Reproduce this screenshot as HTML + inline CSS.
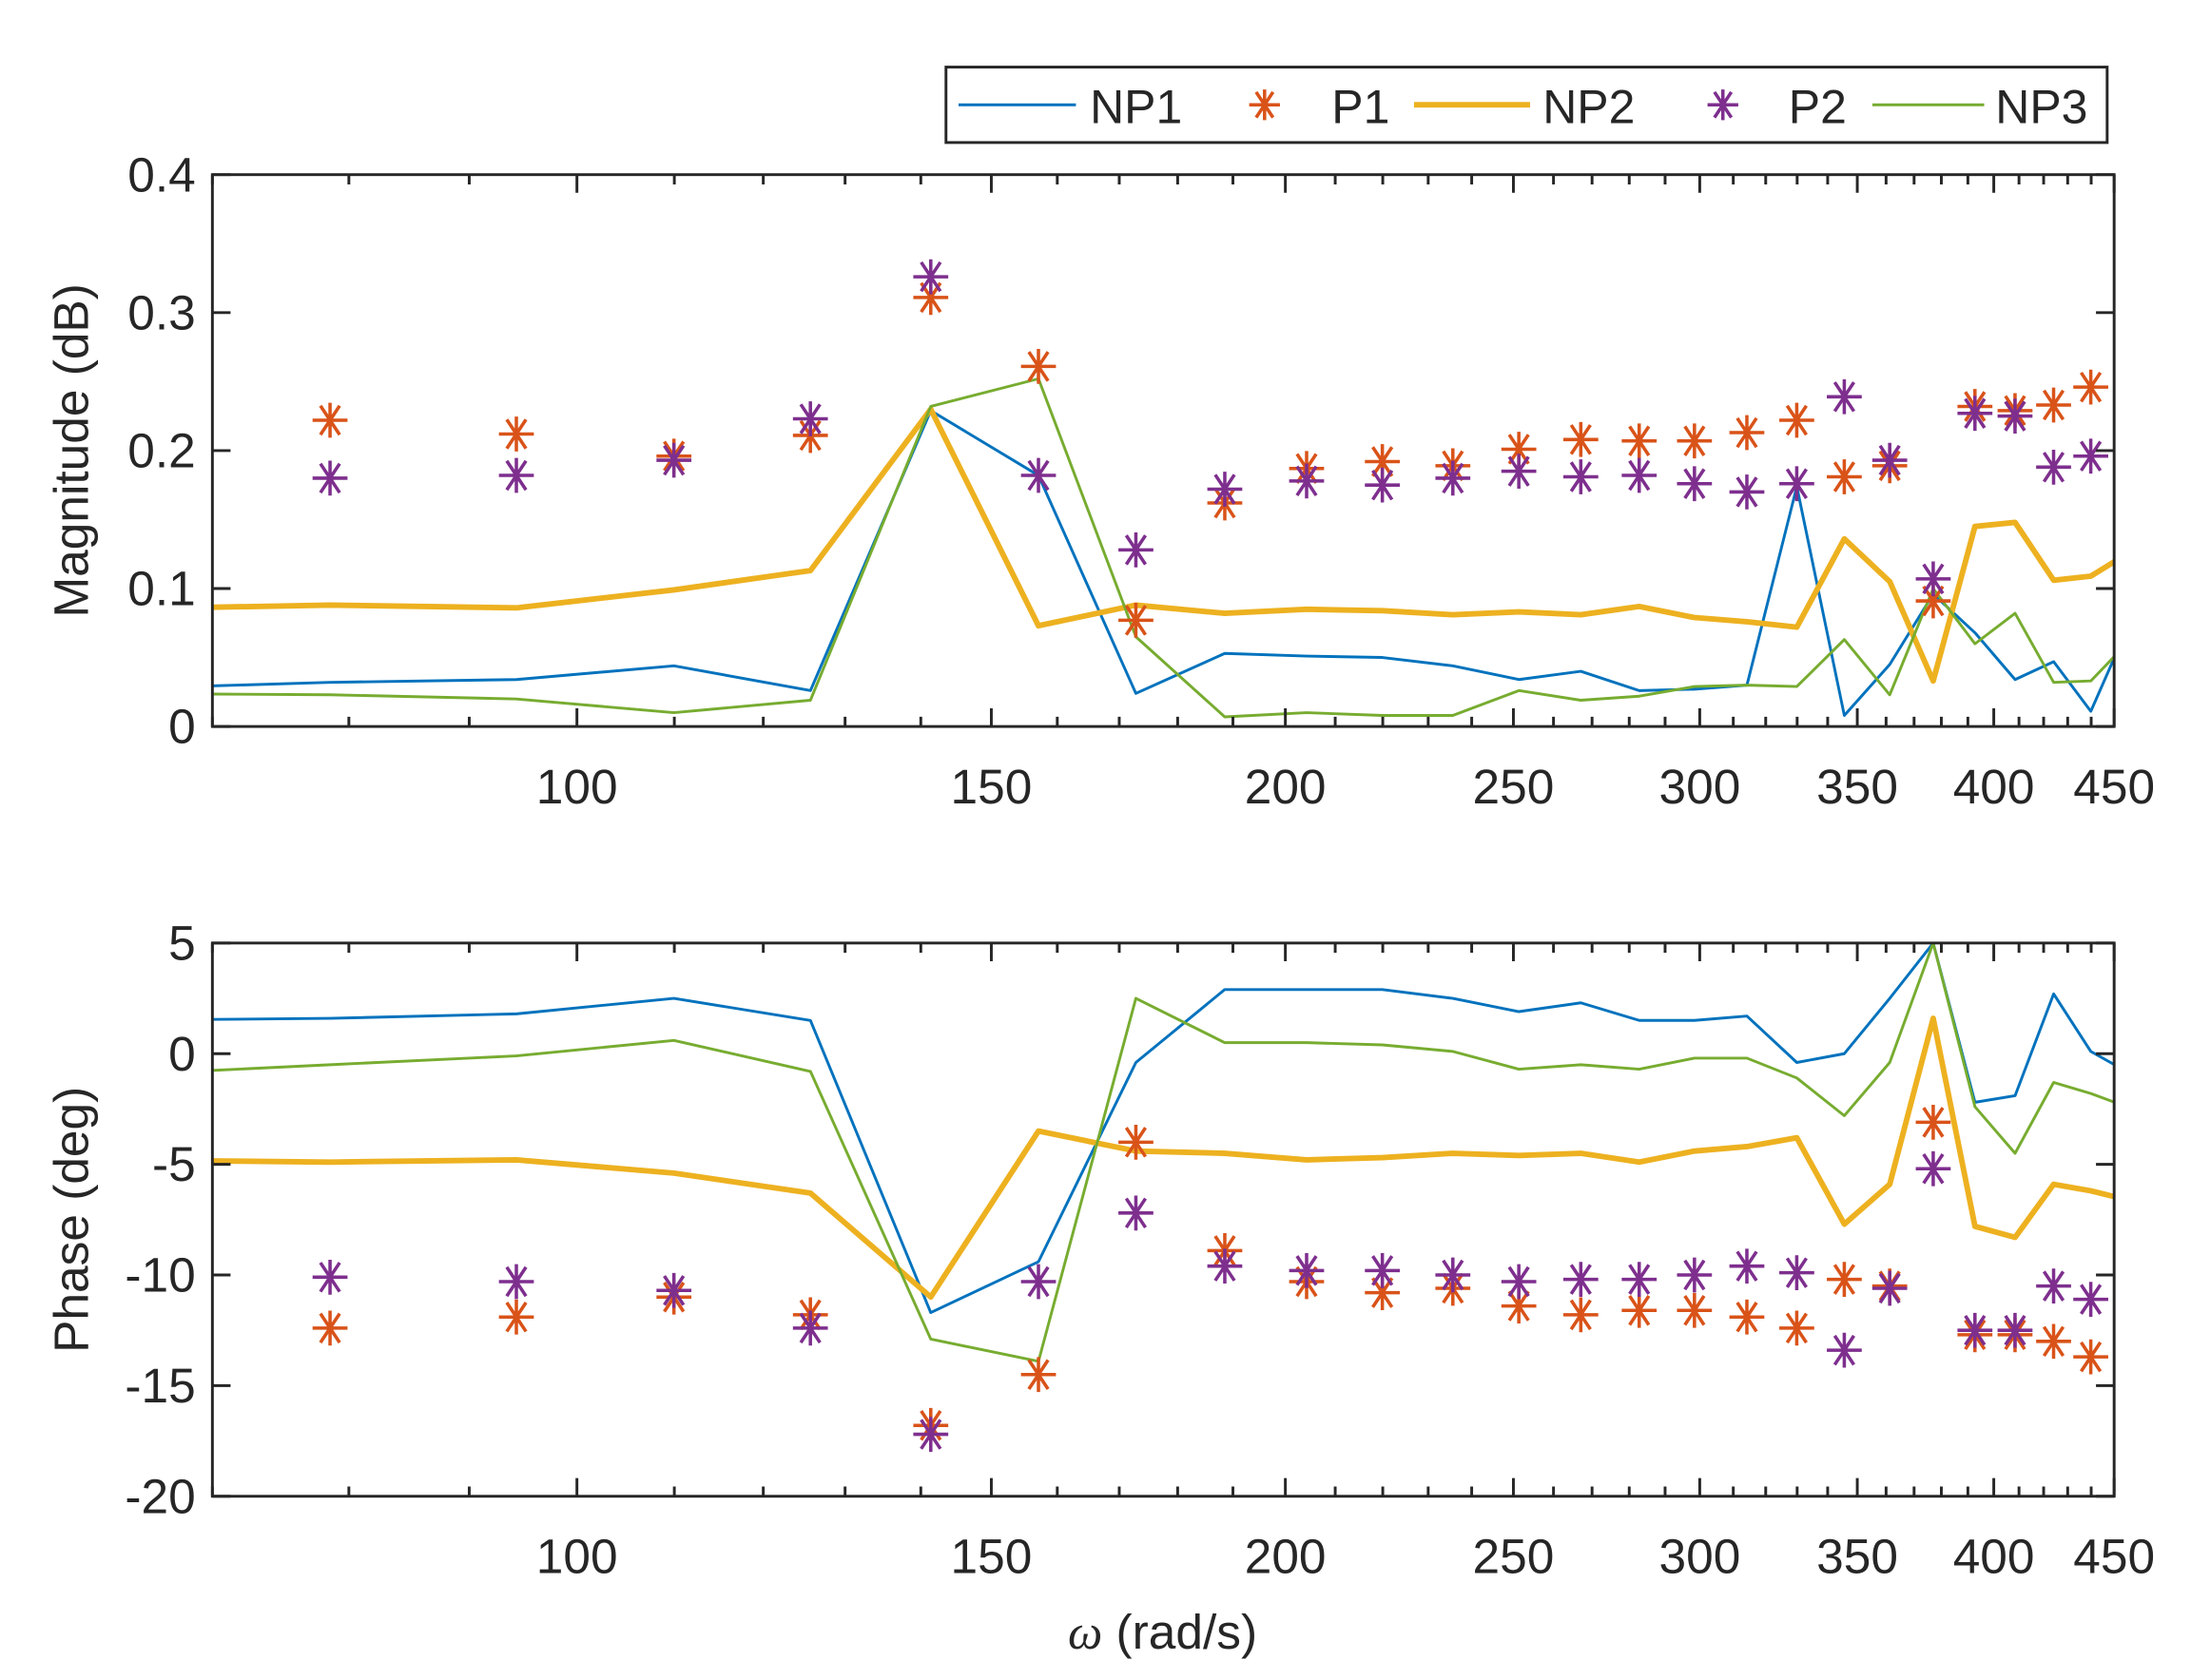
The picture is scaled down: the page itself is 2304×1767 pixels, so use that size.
<!DOCTYPE html>
<html><head><meta charset="utf-8"><style>
html,body{margin:0;padding:0;background:#fff}
svg{display:block}
text{font-family:"Liberation Sans",Arial,sans-serif;fill:#262626}
</style></head><body>
<svg id="chart" xmlns="http://www.w3.org/2000/svg" width="2304" height="1767" viewBox="0 0 1568 1202.5">
<defs>
<clipPath id="c1"><rect x="152" y="125" width="1361" height="395"/></clipPath>
<clipPath id="c2"><rect x="152" y="675" width="1361" height="396"/></clipPath>
</defs>
<g id="root"></g>
</svg>
<script>
const kIdx=[4,5,6,7,8,9,10,11,12,13,14,15,16,17,18,19,20,21,22,23,24,25,26,27,28,29];
const starIdx=[5,6,7,8,9,10,11,12,13,14,15,16,17,18,19,20,21,22,23,24,25,26,27,28];
const magNP1=[0.027,0.032,0.034,0.044,0.026,0.229,0.182,0.024,0.053,0.051,0.050,0.044,0.034,0.040,0.026,0.027,0.030,0.174,0.008,0.045,0.096,0.068,0.034,0.047,0.011,0.07];
const magNP2=[0.085,0.088,0.086,0.099,0.113,0.230,0.073,0.088,0.082,0.085,0.084,0.081,0.083,0.081,0.087,0.079,0.076,0.072,0.136,0.105,0.033,0.145,0.148,0.106,0.109,0.125];
const magNP3=[0.024,0.023,0.020,0.010,0.019,0.232,0.252,0.065,0.007,0.010,0.008,0.008,0.026,0.019,0.022,0.029,0.030,0.029,0.063,0.023,0.100,0.060,0.082,0.032,0.033,0.06];
const magP1=[0.222,0.212,0.196,0.211,0.311,0.261,0.077,0.162,0.187,0.192,0.189,0.201,0.208,0.207,0.207,0.213,0.222,0.181,0.189,0.091,0.232,0.229,0.233,0.246];
const magP2=[0.180,0.182,0.193,0.223,0.326,0.182,0.128,0.172,0.178,0.175,0.180,0.185,0.181,0.182,0.176,0.170,0.176,0.239,0.193,0.107,0.227,0.225,0.188,0.196];
const phNP1=[1.5,1.6,1.8,2.5,1.5,-11.7,-9.4,-0.4,2.9,2.9,2.9,2.5,1.9,2.3,1.5,1.5,1.7,-0.4,0,2.5,5.0,-2.2,-1.9,2.7,0.1,-0.8];
const phNP2=[-4.8,-4.9,-4.8,-5.4,-6.3,-11.0,-3.5,-4.4,-4.5,-4.8,-4.7,-4.5,-4.6,-4.5,-4.9,-4.4,-4.2,-3.8,-7.7,-5.9,1.6,-7.8,-8.3,-5.9,-6.2,-6.6];
const phNP3=[-1.0,-0.5,-0.1,0.6,-0.8,-12.9,-13.9,2.5,0.5,0.5,0.4,0.1,-0.7,-0.5,-0.7,-0.2,-0.2,-1.1,-2.8,-0.4,5.0,-2.4,-4.5,-1.3,-1.8,-2.4];
const phP1=[-12.4,-11.9,-11.0,-11.8,-16.8,-14.5,-4.0,-8.9,-10.3,-10.8,-10.6,-11.4,-11.8,-11.6,-11.6,-11.9,-12.4,-10.2,-10.5,-3.1,-12.7,-12.7,-13.0,-13.7];
const phP2=[-10.1,-10.3,-10.7,-12.4,-17.2,-10.3,-7.2,-9.6,-9.8,-9.8,-10.0,-10.3,-10.2,-10.2,-10.0,-9.6,-9.9,-13.4,-10.6,-5.2,-12.5,-12.5,-10.5,-11.1];
const xTickLabels=[100,150,200,250,300,350,400,450];
const magTicks=[0,0.1,0.2,0.3,0.4];
const phTicks=[-20,-15,-10,-5,0,5];

const NS='http://www.w3.org/2000/svg';
const root=document.getElementById('root');
const X0=152,X1=1513,XMIN=70,XMAX=450;
function xs(w){return X0+(X1-X0)*Math.log(w/XMIN)/Math.log(XMAX/XMIN);}
const w=k=>5*Math.PI*k;
function el(t,a,p){const e=document.createElementNS(NS,t);for(const k in a)e.setAttribute(k,a[k]);(p||root).appendChild(e);return e;}
const C={b:'#0072BD',o:'#D95319',y:'#EDB120',p:'#7E2F8E',g:'#77AC30'};
const FS=35;

function star(g,x,y,col,r){
  let d=`M${x-r} ${y}H${x+r}M${x} ${y-r}V${y+r}M${x-r*0.55} ${y-r*0.83}L${x+r*0.55} ${y+r*0.83}M${x+r*0.55} ${y-r*0.83}L${x-r*0.55} ${y+r*0.83}`;
  return el('path',{d:d,stroke:col,'stroke-width':2.4,fill:'none'},g);
}

function panel(name,top,bot,ymin,ymax,ticks,fmt,clip,series,stars,ylabel){
  const ys=v=>bot-(v-ymin)/(ymax-ymin)*(bot-top);
  const g=el('g',{});
  
  
  const pg=el('g',{'clip-path':`url(#${clip})`},g);
  series.forEach(s=>{
    const pts=s.v.map((v,i)=>xs(w(kIdx[i])).toFixed(1)+','+ys(v).toFixed(1)).join(' ');
    const l=el('polyline',{points:pts,fill:'none',stroke:s.c,'stroke-width':s.w,'stroke-linejoin':'round'},pg);
    
    
  });
  stars.forEach(s=>{
    s.v.forEach((v,i)=>{
      const m=star(pg,xs(w(starIdx[i])),ys(v),s.c,12.5);
      
      
    });
  });
  const ax=el('rect',{x:X0,y:top,width:X1-X0,height:bot-top,fill:'none',stroke:'#262626','stroke-width':2},g);
  
  
  ticks.forEach(t=>{
    const y=ys(t);
    el('path',{d:`M${X0} ${y}h13M${X1} ${y}h-13`,stroke:'#262626','stroke-width':2},g);
    const tx=el('text',{x:X0-12,y:y+12,'font-size':FS,'text-anchor':'end'},g);
    tx.textContent=fmt(t);
    
    
  });
  for(let v=70;v<=450;v+=10){
    const x=xs(v);const major=xTickLabels.includes(v);const L=major?13:7;
    el('path',{d:`M${x} ${bot}v${-L}M${x} ${top}v${L}`,stroke:'#262626','stroke-width':2},g);
  }
  xTickLabels.forEach(v=>{
    const tx=el('text',{x:xs(v),y:bot+55,'font-size':FS,'text-anchor':'middle'},g);
    tx.textContent=v;
    
    
  });
  const yl=el('text',{x:0,y:0,'font-size':FS,'text-anchor':'middle',transform:`translate(63 ${(top+bot)/2}) rotate(-90)`},g);
  yl.textContent=ylabel;
  
  
}
panel('magnitude-panel',125,520,0,0.4,magTicks,t=>t===0?'0':t.toFixed(1),'c1',
 [{v:magNP1,c:C.b,w:2,n:'np1-line'},{v:magNP2,c:C.y,w:4,n:'np2-line'},{v:magNP3,c:C.g,w:2,n:'np3-line'}],
 [{v:magP1,c:C.o,n:'p1'},{v:magP2,c:C.p,n:'p2'}],'Magnitude (dB)');
panel('phase-panel',675,1071,-20,5,phTicks,t=>String(t),'c2',
 [{v:phNP1,c:C.b,w:2,n:'np1-line'},{v:phNP2,c:C.y,w:4,n:'np2-line'},{v:phNP3,c:C.g,w:2,n:'np3-line'}],
 [{v:phP1,c:C.o,n:'p1'},{v:phP2,c:C.p,n:'p2'}],'Phase (deg)');
const xl=el('text',{x:832,y:1180,'font-size':FS,'text-anchor':'middle'});
xl.innerHTML='<tspan font-style="italic" font-family="Liberation Serif">ω</tspan> (rad/s)';



const lg=el('g',{});


el('rect',{x:677,y:48,width:831,height:54,fill:'#fff',stroke:'#262626','stroke-width':2},lg);
const entries=[{t:'NP1',type:'l',c:C.b,w:2,x0:686,x1:770,tx:780},{t:'P1',type:'s',c:C.o,x0:905,tx:953},
 {t:'NP2',type:'l',c:C.y,w:4,x0:1012,x1:1095,tx:1104},{t:'P2',type:'s',c:C.p,x0:1233,tx:1280},
 {t:'NP3',type:'l',c:C.g,w:2,x0:1340,x1:1420,tx:1428}];
entries.forEach(e=>{
  const eg=el('g',{},lg);
  
  
  if(e.type==='l')el('line',{x1:e.x0,x2:e.x1,y1:75,y2:75,stroke:e.c,'stroke-width':e.w},eg);
  else star(eg,e.x0,75,e.c,11);
  const t=el('text',{x:e.tx,y:88,'font-size':34,fill:'#000'},eg);t.textContent=e.t;
});
</script>
</body></html>
